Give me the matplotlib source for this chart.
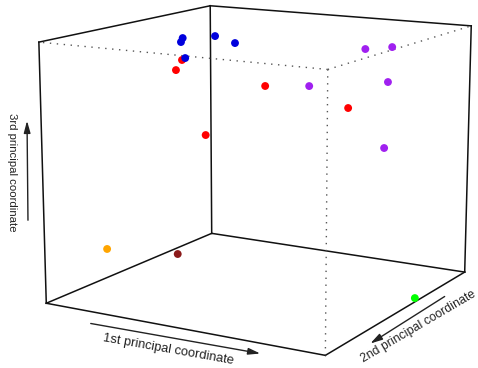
import matplotlib
matplotlib.use("Agg")
import matplotlib.pyplot as plt
from matplotlib.patches import FancyArrowPatch

# principal coordinates of the samples
pc1 = [-0.254, -0.268, -0.152, -0.159, -0.183,
       -0.285, -0.276, -0.138, 0.009, 0.168,
       0.146, 0.362, 0.106, 0.336, 0.329,
       -0.396, -0.338, 0.386]
pc2 = [0.019, 0.029, 0.016, 0.100, -0.056,
       0.052, 0.019, -0.038, 0.001, 0.116,
       0.220, 0.005, 0.043, 0.030, 0.029,
       -0.101, 0.090, 0.086]
pc3 = [0.225, 0.215, 0.235, 0.210, 0.200,
       0.175, 0.160, 0.050, 0.150, 0.100,
       0.200, 0.245, 0.150, 0.175, 0.050,
       -0.190, -0.240, -0.250]
group = [0] * 5 + [1] * 5 + [2] * 5 + [3, 4, 5]
palette = ["#0000DD", "#FF0000", "#A020F0", "#FFA500", "#8B1A1A", "#00FF00"]

xlim = (-0.4, 0.4)
ylim = (-0.3, 0.3)
zlim = (-0.25, 0.25)

W, H = 478, 368
fig = plt.figure(figsize=(W / 100, H / 100), dpi=100)
ax = fig.add_axes([0.0374, 0.0448, 1, 1], projection="3d")
ax.view_init(elev=12.61, azim=-59.76)
ax.set_proj_type("persp", focal_length=0.870)
ax.set_box_aspect((1.201, 1.189, 1), zoom=1.345)
ax.computed_zorder = False
ax.set_axis_off()

# box drawn from the axis limits, hidden edges dotted
x0, x1 = xlim
y0, y1 = ylim
z0, z1 = zlim
solid = [((x0, y0, z0), (x0, y0, z1)), ((x0, y1, z0), (x0, y1, z1)),
         ((x1, y1, z0), (x1, y1, z1)), ((x0, y0, z0), (x1, y0, z0)),
         ((x1, y0, z0), (x1, y1, z0)), ((x1, y1, z0), (x0, y1, z0)),
         ((x0, y1, z0), (x0, y0, z0)), ((x0, y0, z1), (x0, y1, z1)),
         ((x0, y1, z1), (x1, y1, z1))]
dotted = [((x1, y0, z0), (x1, y0, z1)), ((x1, y0, z1), (x0, y0, z1)),
          ((x1, y0, z1), (x1, y1, z1))]
for a, b in solid:
    ax.plot(*zip(a, b), color="#111111", lw=1.1, clip_on=False, zorder=1)
for a, b in dotted:
    ax.plot(*zip(a, b), color="#555555", lw=1.0, ls=(0, (1, 4)),
            clip_on=False, zorder=1)

ax.scatter(pc1, pc2, pc3, c=[palette[g] for g in group], s=32,
           linewidths=0, depthshade=False, clip_on=False, zorder=3)
ax.set_xlim(*xlim)
ax.set_ylim(*ylim)
ax.set_zlim(*zlim)


def fpos(x, y):
    return x / W, 1 - y / H


txt = dict(ha="center", va="center", color="#222222", family="Liberation Sans",
           rotation_mode="anchor")
fig.text(*fpos(168, 350), "1st principal coordinate", rotation=-10, fontsize=9.3, **txt)
fig.text(*fpos(418, 327), "2nd principal coordinate", rotation=30.5, fontsize=8.8, **txt)
fig.text(*fpos(12, 172), "3rd principal coordinate", rotation=-90, fontsize=8.2, **txt)

for start, end in [((88, 323), (263, 354)), ((447, 295), (368, 345)),
                   ((28, 223), (27, 118))]:
    fig.add_artist(FancyArrowPatch(fpos(*start), fpos(*end),
                                   transform=fig.transFigure,
                                   arrowstyle="-|>,head_length=0.8,head_width=0.22",
                                   mutation_scale=9, lw=1.0, color="#222222"))

fig.savefig("out.png", dpi=100)
